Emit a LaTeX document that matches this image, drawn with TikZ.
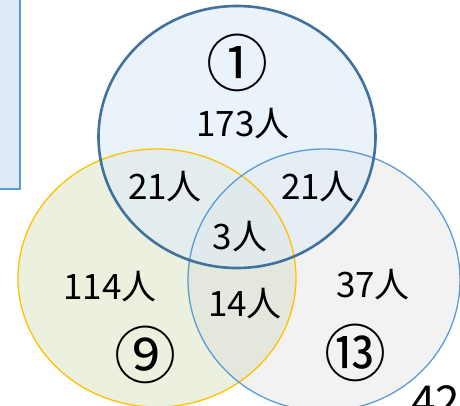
\documentclass[tikz,border=0pt]{standalone}
\usepackage{fontspec}
\newfontfamily\jpfont{Noto Sans CJK JP}
\usetikzlibrary{shapes.geometric}
\definecolor{topline}{HTML}{41719C}
\definecolor{topfill}{HTML}{DEEBF7}
\definecolor{leftline}{HTML}{FFC000}
\definecolor{leftfill}{HTML}{EBF1DE}
\definecolor{rightline}{HTML}{5B9BD5}
\definecolor{rightfill}{HTML}{D9D9D9}
\tikzset{
  lbl/.style={font=\jpfont\fontsize{35}{40}\selectfont, inner sep=0pt},
  setmark/.style={font=\jpfont\fontsize{62}{66}\selectfont, inner sep=0pt},
  ring/.style={ellipse, inner sep=0pt}
}

\begin{document}
\begin{tikzpicture}[x=1pt,y=-1pt]
      \useasboundingbox (0,0) rectangle (460,406);
      \clip (0,0) rectangle (460,406);

      % side box
      \draw[rightline, line width=2pt, fill=topfill] (-10,-10) rectangle (20,189);

      % circles
      \node[ring, minimum width=278pt, minimum height=258pt, fill=leftfill] (nine) at (157,278) {};
      \node[ring, minimum width=272pt, minimum height=262pt, fill=rightfill, fill opacity=0.35] (thirteen) at (324,280) {};
      \node[ring, minimum width=277pt, minimum height=262pt, fill=topfill, fill opacity=0.6] (one) at (237,137) {};
      \draw[leftline, line width=1.3pt] (nine.center) ellipse [x radius=139pt, y radius=129pt];
      \draw[rightline, line width=1.3pt] (thirteen.center) ellipse [x radius=136pt, y radius=131pt];
      \draw[topline, line width=2.6pt] (one.center) ellipse [x radius=138.5pt, y radius=131pt];

      % labels
      \node[setmark] (n1) at (237,63) {①};
      \node[setmark] (n9) at (145,355) {⑨};
      \node[setmark] (n13) at (355,353) {⑬};
      \node[lbl] (a) at (243,124) {173人};
      \node[lbl] (ab) at (165,187) {21人};
      \node[lbl] (ac) at (318,187) {21人};
      \node[lbl] (abc) at (240,237) {3人};
      \node[lbl] (b) at (110,287) {114人};
      \node[lbl] (bc) at (245,304) {14人};
      \node[lbl] (c) at (373,285) {37人};
      \node[lbl, anchor=north west, font=\jpfont\fontsize{44}{50}\selectfont] (total) at (411,385) {42};
\end{tikzpicture}
\end{document}
